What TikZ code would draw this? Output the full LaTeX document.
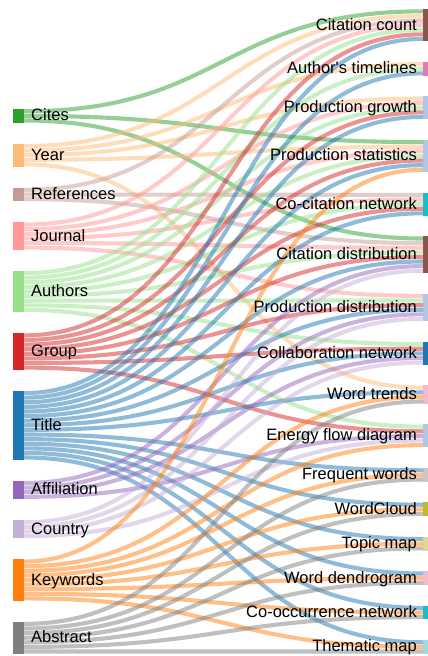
\documentclass[tikz,border=0pt]{standalone}
\usepackage{fontspec}
\setmainfont{Liberation Sans}
\usepackage{tikz}
\usetikzlibrary{calc}
\usetikzlibrary{positioning}

% data fields
\definecolor{cites}{HTML}{2CA02C}
\definecolor{year}{HTML}{FFBB78}
\definecolor{refs}{HTML}{C49C94}
\definecolor{journal}{HTML}{FF9896}
\definecolor{authors}{HTML}{98DF8A}
\definecolor{group}{HTML}{D62728}
\definecolor{title}{HTML}{1F77B4}
\definecolor{affil}{HTML}{9467BD}
\definecolor{country}{HTML}{C5B0D5}
\definecolor{keyw}{HTML}{FF7F0E}
\definecolor{abstr}{HTML}{7F7F7F}
% analyses
\definecolor{citcount}{HTML}{8C564B}
\definecolor{authtime}{HTML}{E377C2}
\definecolor{prodgrowth}{HTML}{AEC7E8}
\definecolor{prodstats}{HTML}{AEC7E8}
\definecolor{cocit}{HTML}{17BECF}
\definecolor{citdist}{HTML}{8C564B}
\definecolor{proddist}{HTML}{AEC7E8}
\definecolor{collab}{HTML}{1F77B4}
\definecolor{wordtr}{HTML}{F7B6D2}
\definecolor{energy}{HTML}{AEC7E8}
\definecolor{freqw}{HTML}{C7C7C7}
\definecolor{wcloud}{HTML}{BCBD22}
\definecolor{topic}{HTML}{DBDB8D}
\definecolor{dendro}{HTML}{F7B6D2}
\definecolor{cooc}{HTML}{17BECF}
\definecolor{thematic}{HTML}{9EDAE5}

\newcommand{\flowu}{4.6}

\begin{document}
\begin{tikzpicture}[x=1pt, y=-1pt,
  bar/.style={rectangle, inner sep=0pt, outer sep=0pt, minimum width=11pt, anchor=north west},
  flow/.style={line width=4.1pt, draw opacity=0.5},
  lbl/.style={inner sep=0pt, text height=1em, text depth=0pt, font=\fontsize{16.5}{18}\selectfont}]
\useasboundingbox (0,0) rectangle (428,656);

\node[bar, fill=cites, minimum height=3*\flowu] (cites) at (13,109) {};
\node[bar, fill=year, minimum height=5*\flowu] (year) at (13,143.7) {};
\node[bar, fill=refs, minimum height=3*\flowu] (refs) at (13,187.6) {};
\node[bar, fill=journal, minimum height=6*\flowu] (journal) at (13,222.3) {};
\node[bar, fill=authors, minimum height=9*\flowu] (authors) at (13,270.8) {};
\node[bar, fill=group, minimum height=8*\flowu] (group) at (13,333.1) {};
\node[bar, fill=title, minimum height=15*\flowu] (title) at (13,390.8) {};
\node[bar, fill=affil, minimum height=4*\flowu] (affil) at (13,480.7) {};
\node[bar, fill=country, minimum height=4*\flowu] (country) at (13,520) {};
\node[bar, fill=keyw, minimum height=9*\flowu] (keyw) at (13,559.3) {};
\node[bar, fill=abstr, minimum height=7*\flowu] (abstr) at (13,621.6) {};

\node[bar, fill=citcount, minimum height=7*\flowu] (citcount) at (423,9) {};
\node[bar, fill=authtime, minimum height=3*\flowu] (authtime) at (423,61.8) {};
\node[bar, fill=prodgrowth, minimum height=5*\flowu] (prodgrowth) at (423,96.2) {};
\node[bar, fill=prodstats, minimum height=7*\flowu] (prodstats) at (423,139.8) {};
\node[bar, fill=cocit, minimum height=5*\flowu] (cocit) at (423,192.6) {};
\node[bar, fill=citdist, minimum height=8*\flowu] (citdist) at (423,236.2) {};
\node[bar, fill=proddist, minimum height=6*\flowu] (proddist) at (423,293.6) {};
\node[bar, fill=collab, minimum height=5*\flowu] (collab) at (423,341.8) {};
\node[bar, fill=wordtr, minimum height=4*\flowu] (wordtr) at (423,385.4) {};
\node[bar, fill=energy, minimum height=5*\flowu] (energy) at (423,424.4) {};
\node[bar, fill=freqw, minimum height=3*\flowu] (freqw) at (423,468) {};
\node[bar, fill=wcloud, minimum height=3*\flowu] (wcloud) at (423,502.4) {};
\node[bar, fill=topic, minimum height=3*\flowu] (topic) at (423,536.8) {};
\node[bar, fill=dendro, minimum height=3*\flowu] (dendro) at (423,571.2) {};
\node[bar, fill=cooc, minimum height=3*\flowu] (cooc) at (423,605.6) {};
\node[bar, fill=thematic, minimum height=3*\flowu] (thematic) at (423,640) {};

% flows: field/slot/analysis/slot
\coordinate (mid) at (223,0);
\foreach \src/\k/\dst/\m in {
  cites/0/citcount/0, cites/1/prodstats/0, cites/2/citdist/0,
  year/0/citcount/1, year/1/authtime/0, year/2/prodgrowth/0, year/3/prodstats/1, year/4/wordtr/0,
  refs/0/citcount/2, refs/1/cocit/0, refs/2/citdist/1,
  journal/0/citcount/3, journal/1/prodgrowth/1, journal/2/prodstats/2, journal/3/cocit/1,
  journal/4/citdist/2, journal/5/proddist/0,
  authors/0/citcount/4, authors/1/authtime/1, authors/2/prodgrowth/2, authors/3/prodstats/3,
  authors/4/cocit/2, authors/5/citdist/3, authors/6/proddist/1, authors/7/collab/0, authors/8/energy/0,
  group/0/citcount/5, group/1/prodgrowth/3, group/2/prodstats/4, group/3/cocit/3,
  group/4/citdist/4, group/5/proddist/2, group/6/collab/1, group/7/energy/1,
  title/0/citcount/6, title/1/authtime/2, title/2/prodgrowth/4, title/3/prodstats/5,
  title/4/cocit/4, title/5/citdist/5, title/6/proddist/3, title/7/collab/2, title/8/wordtr/1,
  title/9/freqw/0, title/10/wcloud/0, title/11/topic/0, title/12/dendro/0, title/13/cooc/0, title/14/thematic/0,
  affil/0/citdist/6, affil/1/proddist/4, affil/2/collab/3, affil/3/energy/2,
  country/0/citdist/7, country/1/proddist/5, country/2/collab/4, country/3/energy/3,
  keyw/0/prodstats/6, keyw/1/wordtr/2, keyw/2/energy/4, keyw/3/freqw/1, keyw/4/wcloud/1,
  keyw/5/topic/1, keyw/6/dendro/1, keyw/7/cooc/1, keyw/8/thematic/1,
  abstr/0/wordtr/3, abstr/1/freqw/2, abstr/2/wcloud/2, abstr/3/topic/2,
  abstr/4/dendro/2, abstr/5/cooc/2, abstr/6/thematic/2} {
  \coordinate (a) at ($(\src.north east)+(0,\k*\flowu+0.5*\flowu)$);
  \coordinate (b) at ($(\dst.north west)+(0,\m*\flowu+0.5*\flowu)$);
  \draw[flow, draw=\src] (a) .. controls (a -| mid) and (b -| mid) .. (b);
}

\node[lbl, right=7pt of cites] {Cites};
\node[lbl, right=7pt of year] {Year};
\node[lbl, right=7pt of refs] {References};
\node[lbl, right=7pt of journal] {Journal};
\node[lbl, right=7pt of authors] {Authors};
\node[lbl, right=7pt of group] {Group};
\node[lbl, right=7pt of title] {Title};
\node[lbl, right=7pt of affil] {Affiliation};
\node[lbl, right=7pt of country] {Country};
\node[lbl, right=7pt of keyw] {Keywords};
\node[lbl, right=7pt of abstr] {Abstract};

\node[lbl, left=6pt of citcount] {Citation count};
\node[lbl, left=6pt of authtime] {Author\textquotesingle s timelines};
\node[lbl, left=6pt of prodgrowth] {Production growth};
\node[lbl, left=6pt of prodstats] {Production statistics};
\node[lbl, left=6pt of cocit] {Co-citation network};
\node[lbl, left=6pt of citdist] {Citation distribution};
\node[lbl, left=6pt of proddist] {Production distribution};
\node[lbl, left=6pt of collab] {Collaboration network};
\node[lbl, left=6pt of wordtr] {Word trends};
\node[lbl, left=6pt of energy] {Energy flow diagram};
\node[lbl, left=6pt of freqw] {Frequent words};
\node[lbl, left=6pt of wcloud] {WordCloud};
\node[lbl, left=6pt of topic] {Topic map};
\node[lbl, left=6pt of dendro] {Word dendrogram};
\node[lbl, left=6pt of cooc] {Co-occurrence network};
\node[lbl, left=6pt of thematic] {Thematic map};
\end{tikzpicture}
\end{document}
